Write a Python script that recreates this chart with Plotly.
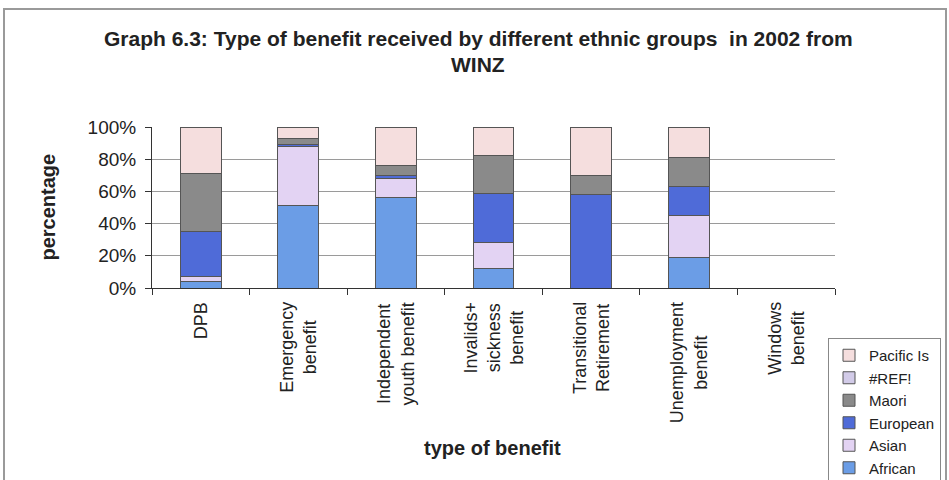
import plotly.graph_objects as go

# Benefit categories (x axis) and their display labels
categories = ["DPB", "Emergency benefit", "Independent youth benefit",
              "Invalids+ sickness benefit", "Transitional Retirement",
              "Unemployment benefit", "Windows benefit"]
tick_labels = ["DPB", "Emergency<br>benefit", "Independent<br>youth benefit",
               "Invalids+<br>sickness<br>benefit", "Transitional<br>Retirement",
               "Unemployment<br>benefit", "Windows<br>benefit"]

# Share of each ethnic group within a benefit type (percent), stacked bottom to top
african = [4, 51, 56, 12, 0, 19, None]
asian = [3, 37, 12, 16, 0, 26, None]
european = [28, 1, 2, 31, 58, 18, None]
maori = [36, 4, 6, 23, 12, 18, None]
ref_err = [None, None, None, None, None, None, None]
pacific = [29, 7, 24, 18, 30, 19, None]

series = [
    ("African", african, "#6b9de6"),
    ("Asian", asian, "#e3d3f3"),
    ("European", european, "#4f6bd8"),
    ("Maori", maori, "#8a8a8a"),
    ("#REF!", ref_err, "#d2cbe8"),
    ("Pacific Is", pacific, "#f5dede"),
]

# pixel geometry of the plot area inside the 949x480 figure
W, H = 949, 480
L, R, T, B = 152, 835, 127, 288
pw, ph = R - L, B - T


def px_x(p):
    return (p - L) / pw


def px_y(p):
    return (B - p) / ph


fig = go.Figure()
for name, vals, col in series:
    fig.add_trace(go.Bar(
        name=name, x=categories, y=vals,
        marker=dict(color=col, line=dict(color="#555555", width=1)),
        width=0.42,
    ))

font_main = "Liberation Sans, Arial, sans-serif"
font_title = "Liberation Sans Narrow, Arial Narrow, Liberation Sans, sans-serif"

annotations = []
for cat, lab in zip(categories, tick_labels):
    annotations.append(dict(
        x=cat, xref="x", y=px_y(300), yref="paper",
        text=lab, textangle=-90, align="center",
        xanchor="center", yanchor="top", showarrow=False,
        font=dict(family=font_main, size=18, color="#222222"),
    ))

# axis titles
annotations.append(dict(
    x=px_x(47), y=0.5, xref="paper", yref="paper", text="<b>percentage</b>",
    textangle=-90, showarrow=False, xanchor="center", yanchor="middle",
    font=dict(family=font_main, size=20, color="#222222"),
))
annotations.append(dict(
    x=px_x(492), y=px_y(448), xref="paper", yref="paper", text="<b>type of benefit</b>",
    showarrow=False, xanchor="center", yanchor="middle",
    font=dict(family=font_main, size=20, color="#222222"),
))
# chart title (two lines)
annotations.append(dict(
    x=px_x(478), y=px_y(38), xref="paper", yref="paper",
    text="<b>Graph 6.3: Type of benefit received by different ethnic groups  in 2002 from</b>",
    showarrow=False, xanchor="center", yanchor="middle",
    font=dict(family=font_title, size=21, color="#222222"),
))
annotations.append(dict(
    x=px_x(478), y=px_y(64), xref="paper", yref="paper",
    text="<b>WINZ</b>",
    showarrow=False, xanchor="center", yanchor="middle",
    font=dict(family=font_title, size=21, color="#222222"),
))

fig.update_layout(
    width=W, height=H,
    margin=dict(l=L, r=W - R, t=T, b=H - B, pad=0, autoexpand=False),
    barmode="stack",
    bargap=0.58,
    paper_bgcolor="white",
    plot_bgcolor="white",
    showlegend=True,
    legend=dict(
        x=px_x(828), y=px_y(338), xanchor="left", yanchor="top",
        bgcolor="white", bordercolor="#888888", borderwidth=1,
        font=dict(family=font_main, size=15, color="#222222"),
        itemwidth=30, tracegroupgap=0,
    ),
    annotations=annotations,
    shapes=[dict(
        type="rect", xref="paper", yref="paper",
        x0=px_x(4), x1=px_x(946), y0=px_y(495), y1=px_y(9),
        line=dict(color="#9a9a9a", width=2), fillcolor="rgba(0,0,0,0)", layer="below",
    )],
)
fig.update_xaxes(
    type="category", categoryorder="array", categoryarray=categories,
    showticklabels=False, ticks="outside", tickson="boundaries", ticklen=6,
    tickcolor="#333333", showline=True, linecolor="#333333", linewidth=1,
    showgrid=False, zeroline=False,
)
fig.update_yaxes(
    range=[0, 100], tickvals=[0, 20, 40, 60, 80, 100],
    ticktext=["0%", "20%", "40%", "60%", "80%", "100%"],
    ticks="outside", ticklen=6, tickcolor="#333333", ticklabelstandoff=5,
    showline=True, linecolor="#333333", linewidth=1,
    showgrid=True, gridcolor="#9a9a9a", gridwidth=1,
    zeroline=False,
    tickfont=dict(family=font_main, size=19, color="#222222"),
)

fig.write_html("out.html")
